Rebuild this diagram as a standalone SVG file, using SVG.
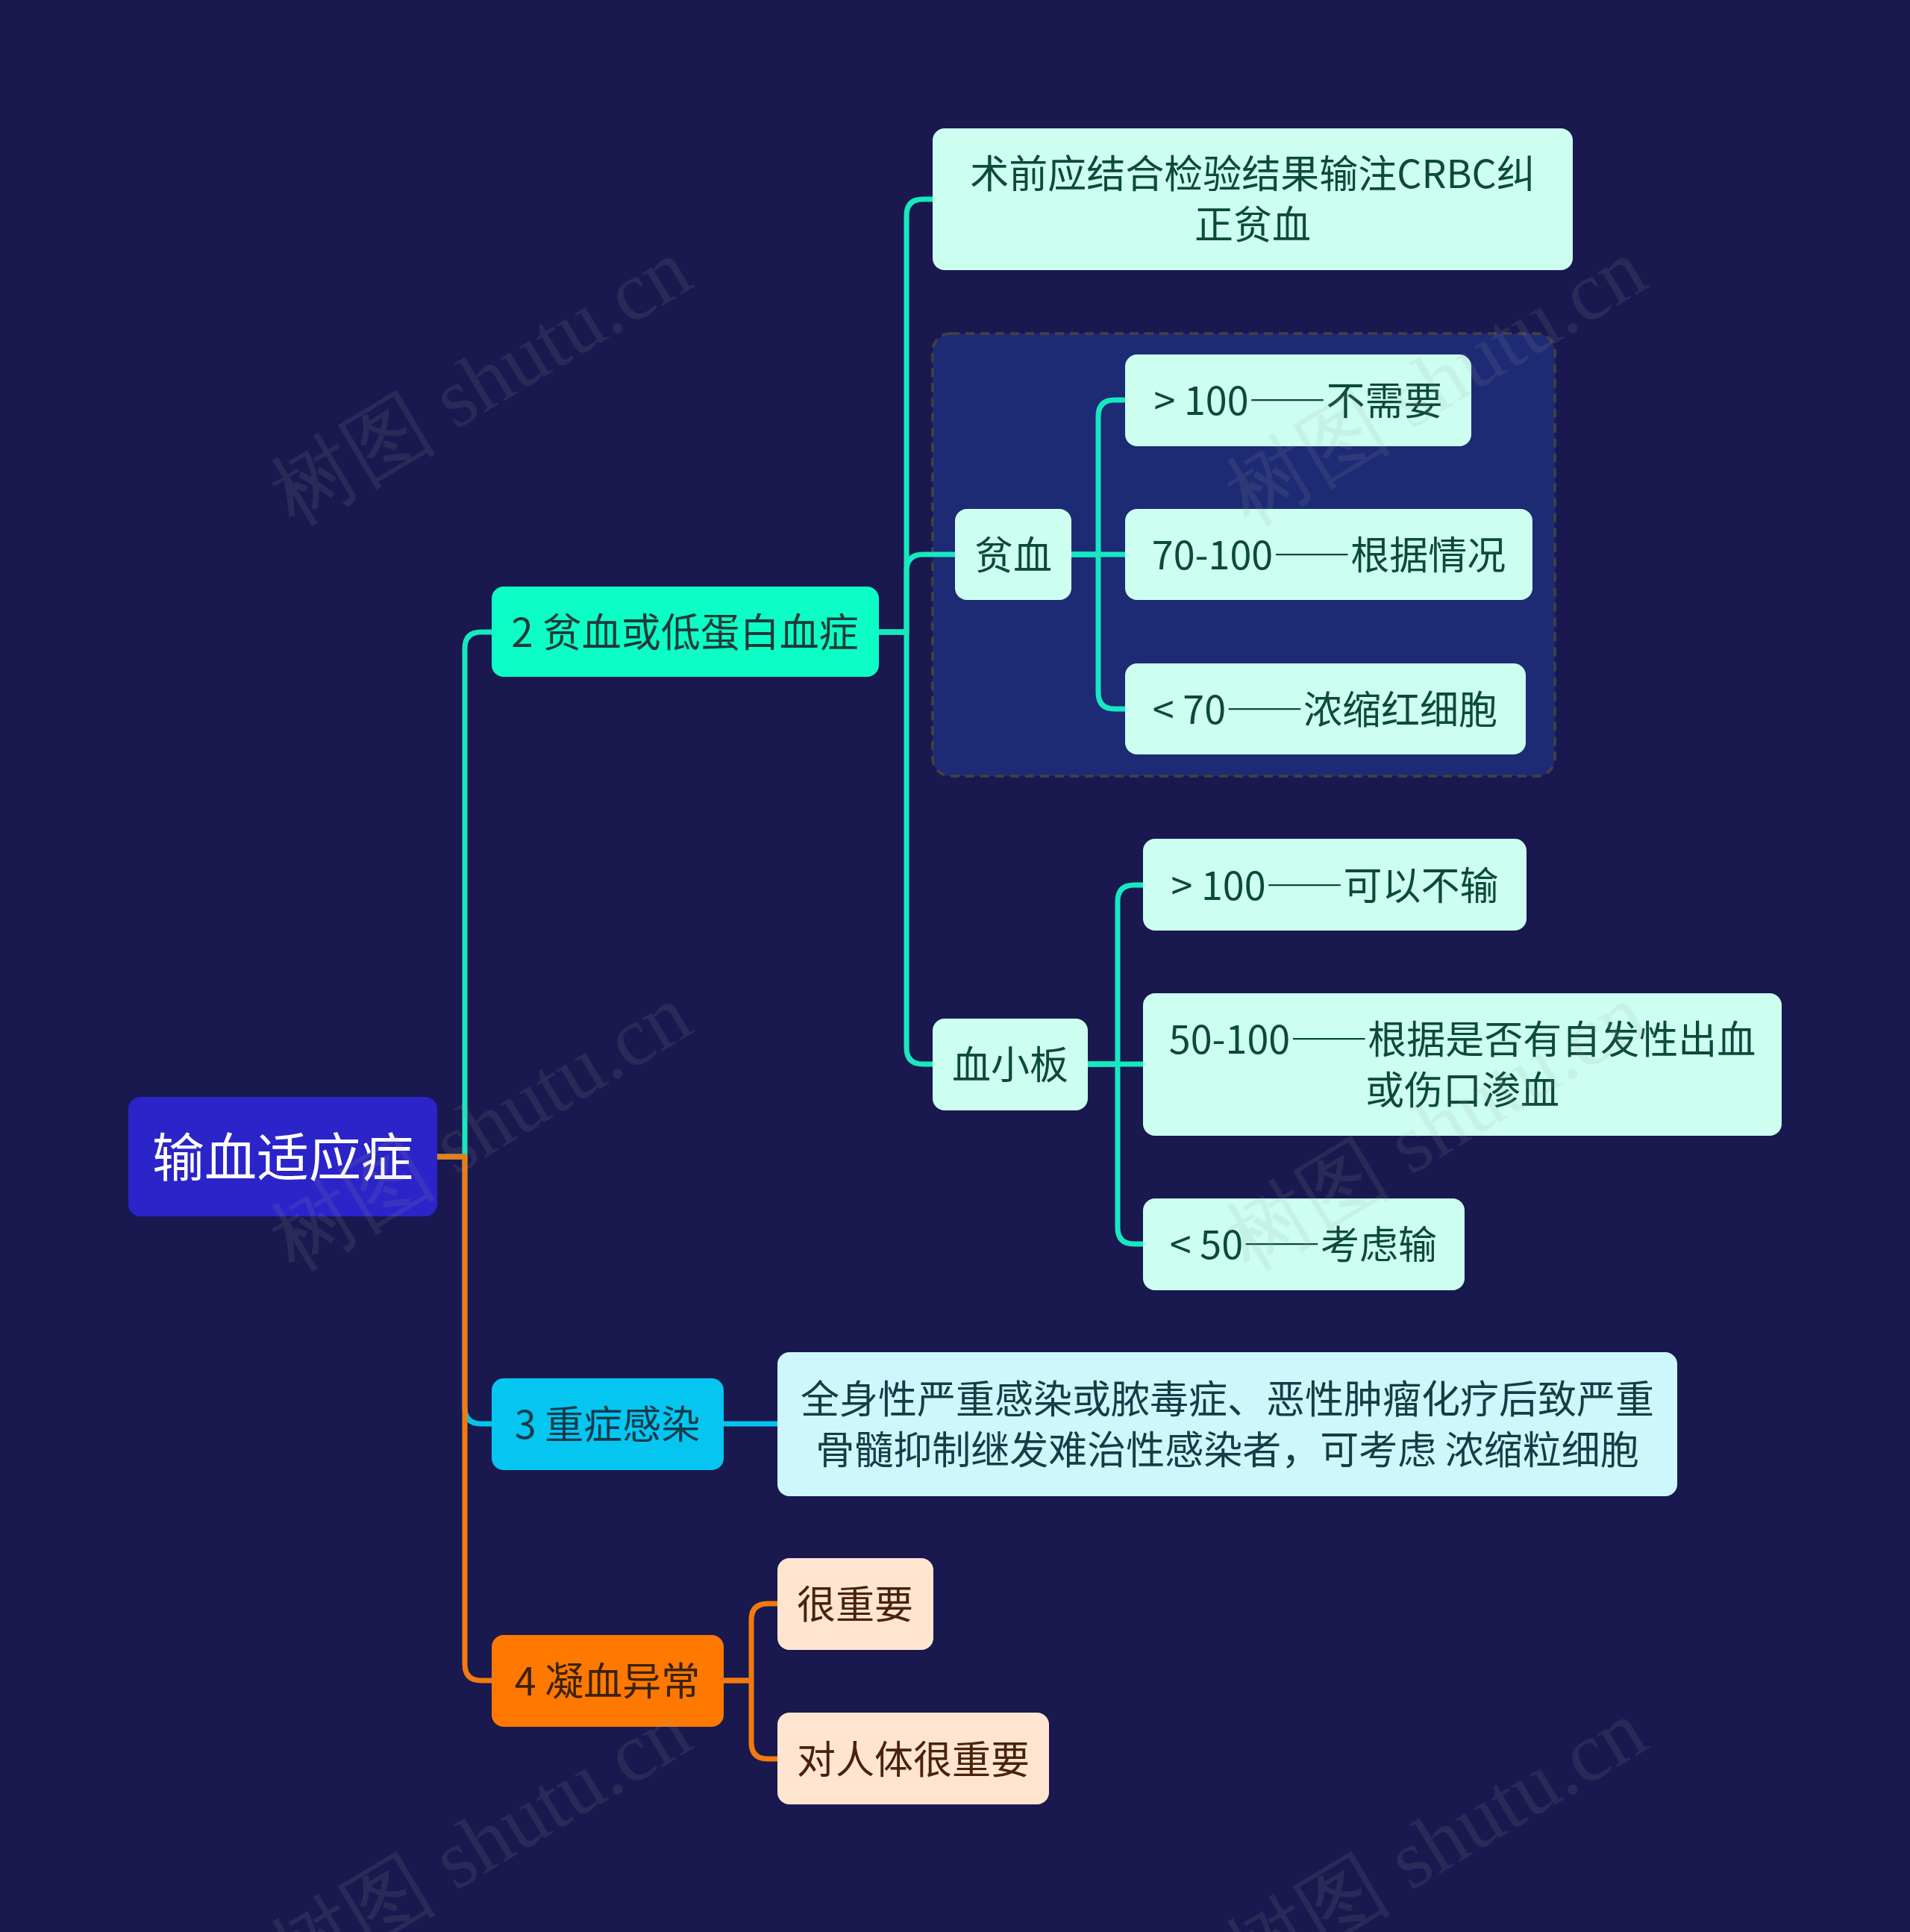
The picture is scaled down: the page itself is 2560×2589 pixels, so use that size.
<svg xmlns="http://www.w3.org/2000/svg" width="2560" height="2589" viewBox="0 0 2560 2589">
<style>
text{font-family:"Noto Sans CJK SC","Noto Sans",sans-serif;text-anchor:middle;dominant-baseline:central}
.l{fill:none;stroke-width:7;stroke-linejoin:round}
.t{stroke:#16e8c0}.c{stroke:#04c4ee}.o{stroke:#f27a0e}
.g3{fill:#ccfff0}.g3t{fill:#0c4a3a;font-size:52px}
.d{font-feature-settings:"fwid" 1}
.wm{font-family:"Liberation Serif",serif;font-size:112px;fill:#a0a0a0;opacity:0.13}
</style>
<rect width="2560" height="2589" fill="#19184f"/>
<g id="group-anemia"><rect x="1250" y="447" width="834" height="593" rx="24" fill="#1d2a74" stroke="#3f3f45" stroke-width="4" stroke-dasharray="12 8"/></g>
<g id="connectors">
<path class="l t" d="M586 1550H623V869Q623 847 645 847H659"/>
<path class="l c" d="M586 1550H623V1886Q623 1908 645 1908H659"/>
<path class="l o" d="M586 1550H623V2230Q623 2252 645 2252H659"/>
<path class="l t" d="M1178 847H1215V289Q1215 267 1237 267H1250"/>
<path class="l t" d="M1178 847H1215V765Q1215 743 1237 743H1280"/>
<path class="l t" d="M1178 847H1215V1404Q1215 1426 1237 1426H1250"/>
<path class="l t" d="M1436 743H1472V558Q1472 536 1494 536H1508"/>
<path class="l t" d="M1436 743H1508"/>
<path class="l t" d="M1436 743H1472V928Q1472 950 1494 950H1508"/>
<path class="l t" d="M1458 1426H1498V1208Q1498 1186 1520 1186H1532"/>
<path class="l t" d="M1458 1426H1532"/>
<path class="l t" d="M1458 1426H1498V1645Q1498 1667 1520 1667H1532"/>
<path class="l c" d="M970 1908H1042"/>
<path class="l o" d="M970 2252H1007V2171Q1007 2149 1029 2149H1042"/>
<path class="l o" d="M970 2252H1007V2335Q1007 2357 1029 2357H1042"/>
</g>
<g id="root"><rect x="172" y="1470" width="414" height="160" rx="16" fill="#2b24c8"/><text x="379" y="1546" font-size="70" fill="#ffffff">输血适应症</text></g>
<g id="n2"><rect x="659" y="786" width="519" height="121" rx="16" fill="#0dfdc6"/><text x="918" y="844" font-size="53" fill="#1f3a38">2 贫血或低蛋白血症</text></g>
<g id="n2-1"><rect class="g3" x="1250" y="172" width="858" height="190" rx="16"/><text class="g3t" x="1679" y="229">术前应结合检验结果输注CRBC纠</text><text class="g3t" x="1679" y="297">正贫血</text></g>
<g id="n2-2"><rect class="g3" x="1280" y="682" width="156" height="122" rx="16"/><text class="g3t" x="1358" y="740">贫血</text></g>
<g id="n2-2-1"><rect class="g3" x="1508" y="475" width="464" height="123" rx="16"/><text class="g3t" x="1740" y="533">&gt; 100<tspan class="d">——</tspan>不需要</text></g>
<g id="n2-2-2"><rect class="g3" x="1508" y="682" width="546" height="122" rx="16"/><text class="g3t" x="1781" y="740">70-100<tspan class="d">——</tspan>根据情况</text></g>
<g id="n2-2-3"><rect class="g3" x="1508" y="889" width="537" height="122" rx="16"/><text class="g3t" x="1776" y="947">&lt; 70<tspan class="d">——</tspan>浓缩红细胞</text></g>
<g id="n2-3"><rect class="g3" x="1250" y="1365" width="208" height="123" rx="16"/><text class="g3t" x="1354" y="1423">血小板</text></g>
<g id="n2-3-1"><rect class="g3" x="1532" y="1124" width="514" height="123" rx="16"/><text class="g3t" x="1789" y="1183">&gt; 100<tspan class="d">——</tspan>可以不输</text></g>
<g id="n2-3-2"><rect class="g3" x="1532" y="1331" width="856" height="191" rx="16"/><text class="g3t" x="1960" y="1389">50-100<tspan class="d">——</tspan>根据是否有自发性出血</text><text class="g3t" x="1960" y="1457">或伤口渗血</text></g>
<g id="n2-3-3"><rect class="g3" x="1532" y="1606" width="431" height="123" rx="16"/><text class="g3t" x="1747" y="1664">&lt; 50<tspan class="d">——</tspan>考虑输</text></g>
<g id="n3"><rect x="659" y="1847" width="311" height="123" rx="16" fill="#04c6f1"/><text x="814" y="1905" font-size="52" fill="#173a48">3 重症感染</text></g>
<g id="n3-1"><rect x="1042" y="1812" width="1206" height="193" rx="16" fill="#cef6fd"/><text x="1645" y="1871" font-size="52" fill="#163c46">全身性严重感染或脓毒症、恶性肿瘤化疗后致严重</text><text x="1645" y="1939" font-size="52" fill="#163c46">骨髓抑制继发难治性感染者，可考虑 浓缩粒细胞</text></g>
<g id="n4"><rect x="659" y="2191" width="311" height="123" rx="16" fill="#ff7800"/><text x="814" y="2249" font-size="52" fill="#3a220c">4 凝血异常</text></g>
<g id="n4-1"><rect x="1042" y="2088" width="209" height="123" rx="16" fill="#ffe5d0"/><text x="1146" y="2146" font-size="52" fill="#4a220c">很重要</text></g>
<g id="n4-2"><rect x="1042" y="2295" width="364" height="123" rx="16" fill="#ffe5d0"/><text x="1224" y="2354" font-size="52" fill="#4a220c">对人体很重要</text></g>
<g id="watermarks">
<text class="wm" transform="translate(644 512) rotate(-31)">树图 shutu.cn</text>
<text class="wm" transform="translate(1924 512) rotate(-31)">树图 shutu.cn</text>
<text class="wm" transform="translate(644 1511) rotate(-31)">树图 shutu.cn</text>
<text class="wm" transform="translate(1924 1511) rotate(-31)">树图 shutu.cn</text>
<text class="wm" transform="translate(644 2470) rotate(-31)">树图 shutu.cn</text>
<text class="wm" transform="translate(1924 2470) rotate(-31)">树图 shutu.cn</text>
</g>
</svg>
